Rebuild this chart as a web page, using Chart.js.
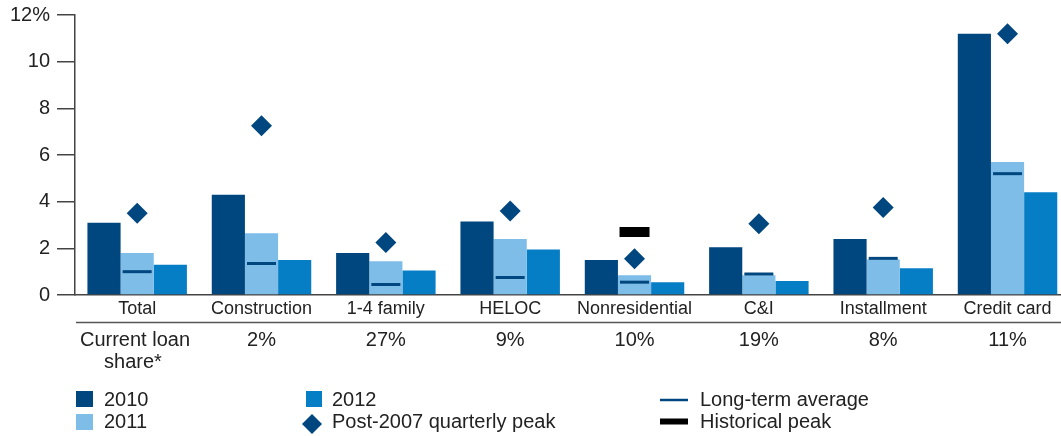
<!DOCTYPE html>
<html><head><meta charset="utf-8">
<script src="https://cdn.jsdelivr.net/npm/chart.js@4.4.1/dist/chart.umd.min.js"></script>
<style>html,body{margin:0;padding:0;background:#fff;overflow:hidden}#wrap{width:1061px;height:436px;position:relative}</style>
</head><body><div id="wrap"><canvas id="c"></canvas></div>
<script>
const categories = ['Total','Construction','1-4 family','HELOC','Nonresidential','C&I','Installment','Credit card'];
const loanShare = ['','2%','27%','9%','10%','19%','8%','11%'];
const loanShareLabel = ['Current loan','share*'];
const values2010 = [3.1,4.3,1.8,3.15,1.5,2.05,2.4,11.2];
const values2011 = [1.8,2.65,1.45,2.4,0.85,0.85,1.52,5.7];
const values2012 = [1.3,1.5,1.05,1.95,0.55,0.6,1.15,4.4];
const longTermAvg = [1.0,1.35,0.45,0.75,0.55,0.9,1.57,5.2];
const postPeak = [3.5,7.25,2.25,3.6,1.55,3.05,3.75,11.2];
const historicalPeak = [null,null,null,null,2.7,null,null,null];
const yTicks = [0,2,4,6,8,10,12];
const seriesNames = ['2010','2011','2012','Long-term average','Post-2007 quarterly peak','Historical peak'];

const C2010 = '#00467F', C2011 = '#7DBDE8', C2012 = '#067EC6', TXT = '#222';
const FONT = '"Liberation Sans", Arial, Helvetica, sans-serif';
Chart.defaults.font.family = FONT;
Chart.defaults.color = TXT;

const pts = arr => arr.map((v,i)=>({x:i,y:v}));

const bottomPlugin = {
  id:'bottomRows',
  afterDraw(chart){
    const ctx = chart.ctx, xs = chart.scales.x;
    ctx.save();
    ctx.strokeStyle = '#555'; ctx.lineWidth = 1.5;
    ctx.beginPath(); ctx.moveTo(chart.chartArea.left+1, 322.5); ctx.lineTo(chart.width, 322.5); ctx.stroke();
    ctx.fillStyle = TXT; ctx.font = '20px ' + FONT; ctx.textBaseline = 'middle'; ctx.textAlign = 'center';
    loanShare.forEach((s,i)=>{ if (s) ctx.fillText(s, xs.getPixelForValue(i), 340); });
    ctx.fillText(loanShareLabel[0], 135, 340);
    ctx.fillText(loanShareLabel[1], 133, 362);
    // legend
    ctx.textAlign = 'left';
    ctx.fillStyle = C2010; ctx.fillRect(76, 391, 17, 16);
    ctx.fillStyle = C2011; ctx.fillRect(76, 414, 17, 16);
    ctx.fillStyle = C2012; ctx.fillRect(306, 391, 16, 16);
    ctx.fillStyle = C2010;
    ctx.beginPath(); ctx.moveTo(312,414); ctx.lineTo(322,424); ctx.lineTo(312,434); ctx.lineTo(302,424); ctx.closePath(); ctx.fill();
    ctx.strokeStyle = C2010; ctx.lineWidth = 2.5;
    ctx.beginPath(); ctx.moveTo(660,400); ctx.lineTo(688,400); ctx.stroke();
    ctx.fillStyle = '#000'; ctx.fillRect(660, 418.5, 28, 6);
    ctx.fillStyle = TXT;
    ctx.fillText(seriesNames[0], 104, 400);
    ctx.fillText(seriesNames[1], 104, 422);
    ctx.fillText(seriesNames[2], 332, 400);
    ctx.fillText(seriesNames[4], 332, 422);
    ctx.fillText(seriesNames[3], 700, 400);
    ctx.fillText(seriesNames[5], 700, 422);
    ctx.restore();
  }
};

new Chart(document.getElementById('c'), {
  type:'bar',
  data:{
    datasets:[
      {type:'line', label:seriesNames[3], data:pts(longTermAvg), showLine:false, pointStyle:'line', pointRadius:14.5, pointBorderWidth:3, borderColor:C2010, backgroundColor:C2010, order:0, clip:false},
      {type:'line', label:seriesNames[5], data:pts(historicalPeak), showLine:false, pointStyle:'line', pointRadius:15, pointBorderWidth:10, borderColor:'#000', backgroundColor:'#000', order:0, clip:false},
      {type:'line', label:seriesNames[4], data:pts(postPeak), showLine:false, pointStyle:'rectRot', pointRadius:10.5, pointBorderWidth:0, borderColor:C2010, backgroundColor:C2010, order:0, clip:false},
      {label:seriesNames[0], data:pts(values2010), backgroundColor:C2010, order:1},
      {label:seriesNames[1], data:pts(values2011), backgroundColor:C2011, order:1},
      {label:seriesNames[2], data:pts(values2012), backgroundColor:C2012, order:1}
    ]
  },
  options:{
    responsive:true, maintainAspectRatio:false, animation:false,
    layout:{autoPadding:false, padding:{top:15,left:0,right:0,bottom:0}},
    datasets:{bar:{categoryPercentage:0.8, barPercentage:1.0, borderWidth:0}},
    plugins:{legend:{display:false}, tooltip:{enabled:false}},
    scales:{
      x:{type:'linear', min:-0.5, max:7.43, bounds:'data', offset:false,
         afterBuildTicks(s){ s.ticks = categories.map((c,i)=>({value:i})); },
         afterFit(s){ s.height = 141; s.paddingLeft = 0; s.paddingRight = 0; },
         grid:{display:false, drawTicks:false, offset:false},
         border:{display:true, color:'#444', width:1.5},
         ticks:{autoSkip:false, maxRotation:0, padding:3, font:{size:18}, color:TXT,
                callback:(v)=>categories[v]}},
      y:{min:0, max:12, 
         afterBuildTicks(s){ s.ticks = yTicks.map(v=>({value:v})); },
         afterFit(s){ s.width = 75; s.paddingTop = 0; s.paddingBottom = 0; },
         grid:{display:true, drawOnChartArea:false, drawTicks:true, tickLength:18, color:'#444', lineWidth:1.5},
         border:{display:true, color:'#444', width:1.5},
         ticks:{padding:7, font:{size:20}, color:TXT, callback:(v)=> v===12 ? '12%' : String(v)}}
    }
  },
  plugins:[bottomPlugin]
});
</script></body></html>
